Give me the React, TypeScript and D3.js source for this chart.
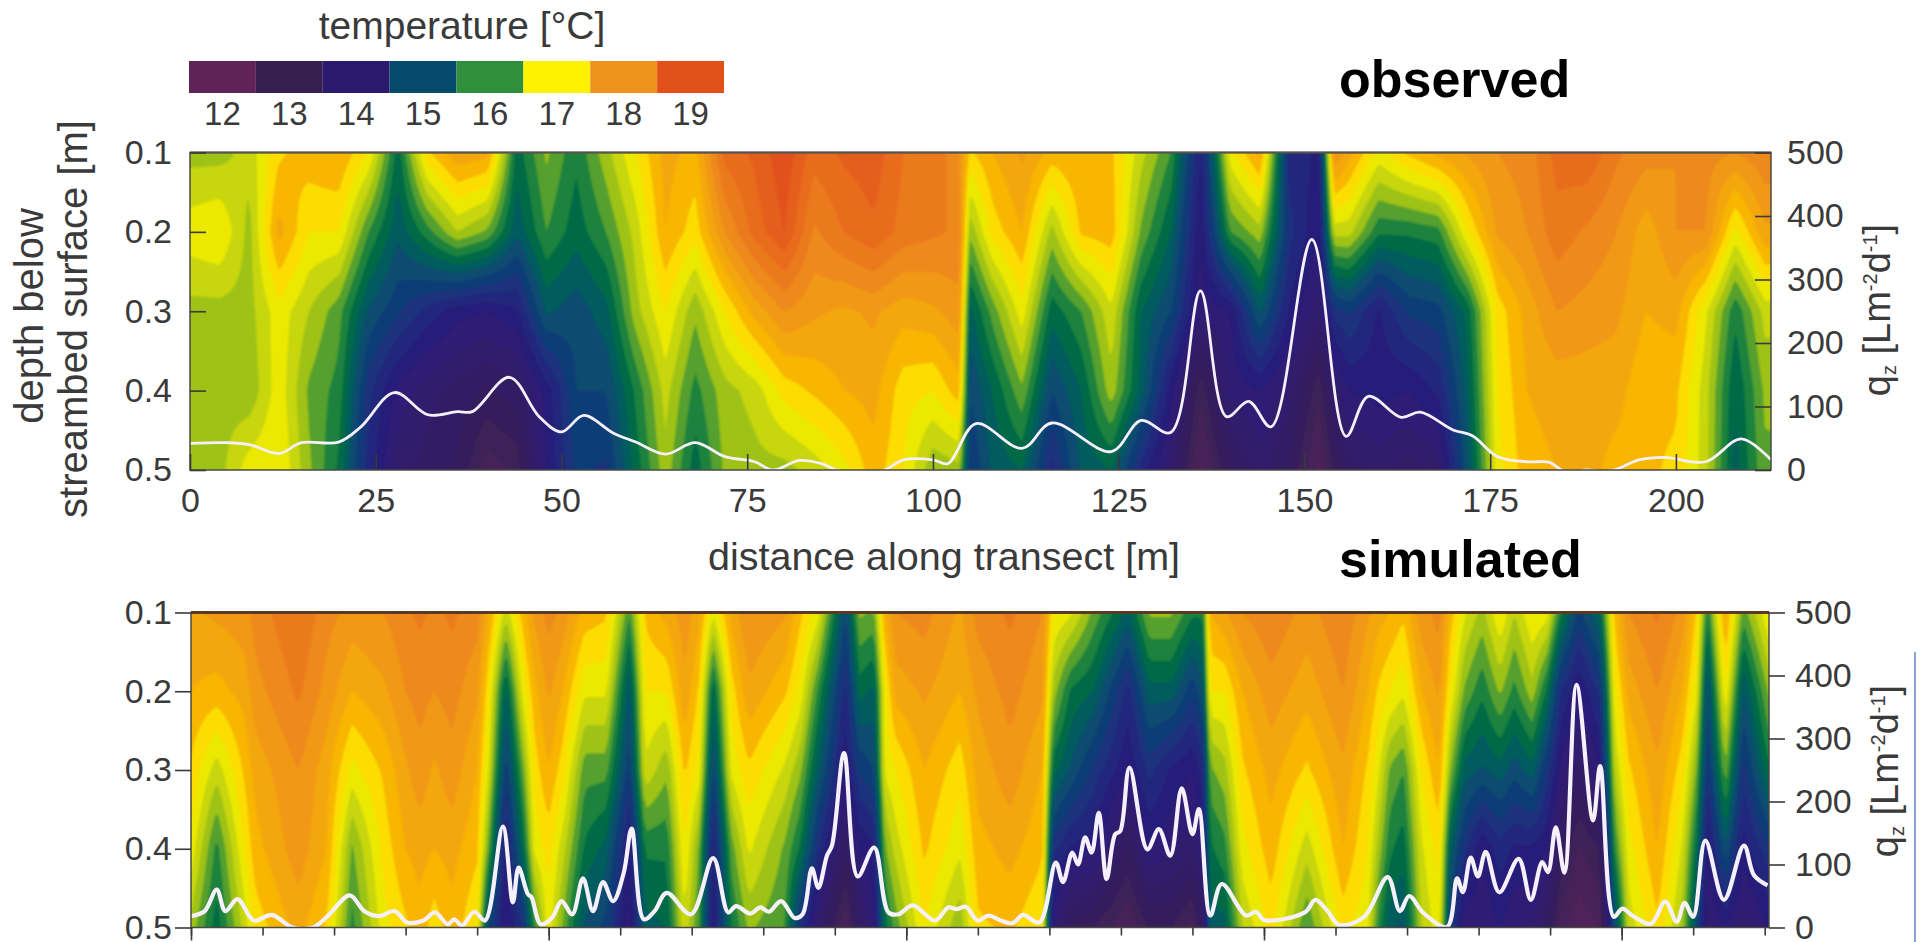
import React, { useEffect, useRef } from 'react';
import * as d3 from 'd3';

// colour bar
const legendLabels = [12, 13, 14, 15, 16, 17, 18, 19];
const legendColors = ['#5f2358', '#37204f', '#2b1a6e', '#044a6c', '#2f8f3a', '#fff200', '#ef931e', '#e2501a'];

const depths = [0.1, 0.2, 0.3, 0.4, 0.5];
const depthTicks = [0.1, 0.2, 0.3, 0.4, 0.5];
const fluxTicks = [0, 100, 200, 300, 400, 500];
const obsDistTicks = [0, 25, 50, 75, 100, 125, 150, 175, 200];

// observed temperature, one list per depth, one value per station
const obsStations = [0, 4, 8, 12, 16, 20, 24, 28, 32, 36, 40, 44, 48, 52, 56, 60, 64, 68, 72, 76, 80, 84, 88, 92, 96, 100, 103.5, 105, 108, 112, 116, 120, 124, 128, 132, 136, 140, 144, 148, 152, 154, 156, 160, 164, 168, 172, 176, 180, 184, 188, 192, 196, 200, 204, 208, 212];
const obsT01 = [16.4, 16.4, 16.6, 17.2, 17.4, 17.5, 17.0, 15.6, 17.2, 17.7, 17.6, 15.6, 16.3, 15.8, 16.4, 17.0, 17.6, 17.4, 18.6, 18.8, 19.2, 18.6, 18.8, 18.9, 18.5, 18.5, 18.0, 17.2, 17.5, 17.8, 17.4, 17.5, 17.3, 16.6, 16.0, 14.2, 16.9, 17.6, 14.4, 14.2, 18.0, 17.6, 16.9, 17.3, 17.6, 17.8, 18.0, 18.1, 18.6, 18.7, 18.3, 18.1, 18.0, 18.1, 18.0, 18.2];
const obsT02 = [16.9, 17.0, 16.4, 17.6, 17.0, 17.0, 16.0, 15.3, 15.9, 16.5, 16.2, 15.3, 16.0, 15.6, 16.0, 16.6, 17.5, 17.1, 18.0, 18.6, 19.0, 18.2, 18.5, 18.7, 18.4, 18.3, 18.2, 16.3, 17.1, 17.5, 16.4, 17.3, 17.4, 16.2, 15.5, 14.0, 16.0, 16.4, 14.6, 14.0, 16.6, 16.6, 15.8, 15.8, 15.9, 17.0, 17.8, 18.0, 18.4, 18.2, 18.0, 17.6, 18.0, 18.0, 16.9, 17.7];
const obsT03 = [16.4, 16.4, 16.4, 16.9, 16.5, 16.1, 15.2, 14.8, 14.4, 14.1, 14.0, 14.2, 15.3, 15.1, 15.4, 16.4, 17.0, 16.3, 17.0, 17.6, 18.0, 17.8, 17.7, 17.8, 17.6, 17.7, 17.9, 15.4, 16.1, 16.9, 15.6, 16.0, 16.7, 15.5, 15.0, 13.8, 14.0, 15.3, 14.2, 13.6, 14.6, 14.8, 14.2, 14.8, 14.9, 15.6, 17.1, 17.6, 18.0, 17.9, 17.8, 17.5, 17.6, 16.8, 15.8, 16.6];
const obsT04 = [16.4, 16.4, 16.3, 16.9, 16.2, 15.9, 14.6, 13.9, 13.6, 13.4, 13.2, 13.4, 14.1, 15.0, 15.0, 15.8, 16.6, 15.9, 16.4, 16.6, 17.1, 17.3, 17.5, 17.6, 17.1, 17.0, 17.4, 15.0, 15.5, 16.2, 15.0, 15.5, 16.4, 15.4, 14.1, 12.8, 13.8, 14.0, 13.6, 12.8, 13.6, 14.0, 14.1, 14.0, 14.3, 15.4, 17.0, 17.5, 17.6, 17.6, 17.6, 17.3, 17.3, 16.6, 15.5, 16.3];
const obsT05 = [16.4, 16.4, 16.9, 17.0, 16.3, 15.7, 14.4, 13.6, 13.4, 13.2, 12.6, 12.8, 14.0, 14.8, 14.7, 15.6, 16.4, 15.6, 16.3, 16.4, 16.4, 16.6, 16.9, 17.4, 17.0, 16.3, 16.4, 14.7, 15.3, 15.5, 14.4, 15.3, 15.5, 14.4, 13.6, 12.4, 13.2, 13.6, 13.2, 12.4, 13.0, 13.4, 13.6, 13.4, 13.6, 15.2, 16.9, 17.4, 17.5, 17.6, 17.4, 17.3, 17.2, 16.6, 15.4, 16.2];

// observed flux line
const obsFluxDist = [0, 5, 8, 12, 15, 20, 23, 27.5, 32, 36, 38, 43, 47, 50, 53, 57, 60, 64, 68, 72, 76, 78.5, 82, 85, 87, 90, 93.5, 96, 100, 102, 105.8, 112, 116, 124, 128, 132, 136, 139.5, 142.5, 145.5, 151, 155.6, 158.6, 163, 165.6, 170, 172.6, 176, 180, 183, 184.6, 186, 188, 190, 192, 195, 198.5, 204, 208.8, 212.8];
const obsFlux = [42, 43, 40, 26, 43, 44, 68, 122, 87, 92, 92, 146, 84, 60, 86, 58, 44, 25, 43, 21, 13, 0, 15, 10, 0, -6, 0, 16, 16, 10, 73, 34, 74, 29, 78, 59, 282, 84, 108, 68, 363, 53, 116, 83, 91, 63, 54, 21, 13, 12, 0, -4, 0, -3, 1, 16, 20, 13, 49, 16];

// simulated temperature
const simStations = [0, 3.6, 7.5, 9, 15, 19, 22.5, 27, 30, 32, 34, 36.5, 40, 41.5, 44, 46.5, 48, 50, 52, 55, 58, 61.3, 63.5, 66.5, 69, 71, 73, 75.5, 78, 83, 85.2, 87.5, 91.5, 93.5, 95.5, 97, 98.5, 102.5, 107.5, 110, 114.5, 119, 120.5, 123, 126, 131, 134, 137, 140, 141.5, 142.5, 144.5, 147, 151, 156, 161, 164.5, 166, 167.6, 169.5, 172, 174.5, 176, 178, 180.5, 183, 185, 187.5, 189.5, 191.5, 194, 197, 199, 201, 205, 208.5, 210.5, 212, 214.5, 217, 220.6];
const simT01 = [17.7, 17.8, 17.9, 18.1, 18.5, 18.1, 17.9, 18.0, 18.2, 18.3, 18.2, 18.3, 18.1, 17.6, 16.6, 17.4, 17.8, 18.1, 17.9, 17.4, 17.3, 16.0, 17.3, 17.6, 17.9, 17.6, 16.8, 17.6, 18.0, 17.8, 17.3, 16.9, 15.0, 16.3, 16.2, 17.5, 18.0, 18.1, 17.7, 18.1, 18.3, 18.0, 17.0, 16.8, 16.2, 15.4, 16.3, 16.3, 15.8, 15.8, 17.5, 17.7, 18.0, 18.2, 17.9, 18.2, 17.8, 17.6, 17.5, 17.3, 17.9, 18.1, 17.4, 16.8, 16.4, 17.0, 16.5, 17.0, 16.9, 15.8, 14.9, 15.5, 17.3, 18.0, 18.3, 17.9, 17.2, 15.8, 17.6, 16.1, 17.0];
const simT02 = [17.5, 17.4, 17.6, 17.9, 18.3, 17.9, 17.5, 17.7, 18.0, 18.1, 18.0, 18.1, 17.8, 17.1, 15.4, 16.9, 17.4, 17.8, 17.5, 16.8, 16.8, 15.2, 17.0, 17.0, 17.7, 17.2, 15.5, 17.1, 17.7, 17.3, 16.9, 16.0, 14.4, 15.6, 15.4, 16.9, 17.6, 17.8, 17.5, 17.8, 18.1, 17.8, 16.4, 15.7, 15.5, 14.4, 15.4, 15.4, 14.8, 15.2, 17.0, 17.0, 17.5, 17.9, 17.6, 18.0, 17.5, 17.2, 17.0, 16.8, 17.5, 17.8, 17.0, 16.2, 15.8, 16.3, 15.9, 16.4, 15.7, 14.5, 14.0, 14.6, 16.9, 17.6, 18.0, 17.5, 16.8, 15.0, 17.0, 15.2, 16.3];
const simT03 = [17.2, 16.6, 17.3, 17.6, 18.0, 17.6, 16.9, 17.3, 17.7, 17.9, 17.7, 17.9, 17.5, 16.8, 14.8, 16.2, 17.1, 17.5, 17.1, 16.1, 16.1, 14.8, 16.7, 16.3, 17.3, 16.9, 14.9, 16.8, 17.2, 16.7, 16.3, 15.4, 14.0, 14.8, 15.0, 16.8, 17.0, 17.5, 17.1, 17.6, 17.9, 17.5, 15.6, 15.2, 14.7, 14.0, 14.6, 14.2, 14.0, 14.4, 16.2, 16.4, 17.2, 17.6, 17.2, 17.7, 17.2, 16.8, 16.2, 16.0, 17.0, 17.5, 16.3, 15.4, 15.2, 15.4, 15.1, 15.4, 14.7, 13.9, 13.4, 14.0, 16.5, 17.2, 17.7, 17.1, 16.2, 14.6, 16.2, 14.6, 15.7];
const simT04 = [16.9, 15.9, 17.0, 17.4, 17.9, 17.5, 16.2, 17.1, 17.5, 17.6, 17.5, 17.6, 17.3, 16.2, 14.1, 15.6, 16.8, 17.1, 16.6, 15.7, 15.4, 14.1, 15.8, 15.8, 17.0, 16.2, 14.2, 16.1, 16.8, 16.2, 15.7, 14.6, 13.3, 14.0, 14.2, 16.2, 16.6, 17.3, 16.8, 17.4, 17.6, 17.3, 14.6, 14.2, 14.1, 13.2, 14.0, 13.8, 13.6, 14.0, 15.7, 15.9, 16.9, 17.4, 16.6, 17.5, 17.0, 16.4, 15.8, 15.6, 16.7, 17.1, 15.4, 14.6, 14.0, 14.4, 14.2, 14.2, 14.0, 13.2, 12.7, 13.0, 15.9, 16.9, 17.5, 16.7, 15.6, 14.0, 15.2, 14.1, 14.7];
const simT05 = [16.4, 15.6, 16.6, 17.1, 17.6, 17.2, 15.9, 16.9, 17.2, 17.4, 17.1, 17.4, 17.0, 15.0, 13.9, 14.6, 15.9, 16.9, 16.2, 15.2, 14.9, 13.8, 15.4, 15.5, 16.7, 16.0, 14.0, 15.7, 16.3, 16.0, 14.6, 13.6, 12.5, 13.4, 13.9, 15.6, 16.1, 17.0, 16.3, 17.2, 17.3, 17.0, 13.8, 13.2, 13.0, 12.5, 13.0, 13.0, 12.6, 13.4, 15.4, 15.4, 16.5, 17.1, 16.0, 17.1, 16.8, 15.9, 15.3, 15.2, 16.5, 16.9, 14.8, 13.8, 13.8, 14.0, 13.8, 13.7, 13.3, 12.6, 12.3, 12.5, 15.0, 16.6, 17.2, 16.4, 15.0, 13.6, 14.0, 13.6, 14.0];

// simulated flux line
const simFluxDist = [0, 1.9, 3.6, 4.8, 6.5, 8.8, 11.3, 14.2, 17.1, 19.1, 22.2, 24.2, 26.2, 28.5, 30.2, 32.5, 34.1, 35.9, 36.8, 37.9, 39.6, 41.1, 43.6, 45, 45.8, 47.1, 47.6, 48.9, 50.5, 51.8, 53.3, 54.8, 56.2, 57.6, 59, 60.5, 61.6, 63.3, 64.8, 66.5, 69.9, 73, 75.1, 76.2, 78.2, 79.6, 80.8, 82.5, 84.4, 85.5, 86.8, 87.7, 88.9, 89.6, 91.3, 93.2, 95.5, 97.5, 98.9, 100.9, 104, 105.9, 107, 108.3, 110, 111.5, 113.2, 114.9, 116.3, 118.6, 120.9, 121.9, 123.2, 124, 125, 125.9, 126.9, 128, 129.2, 129.9, 131.2, 133.7, 135.3, 136.9, 138.5, 140, 140.9, 142.5, 144.1, 147.5, 148.9, 150, 155.7, 157.2, 158.9, 160.5, 164, 167.3, 169, 170.3, 172.3, 175.6, 177, 177.8, 178.9, 179.9, 181, 182.9, 185.6, 187.3, 188.9, 189.7, 190.8, 192, 193.7, 196, 197, 198.9, 200.1, 201.6, 204.1, 206.1, 207.7, 208.8, 210, 211.7, 214.3, 217.1, 218.5, 220.4];
const simFlux = [18, 26, 60, 26, 45, 11, 20, 0, 0, 18, 51, 26, 18, 26, 8, 11, 24, 5, 13, 3, 25, 11, 160, 40, 95, 53, 48, 5, 16, 42, 21, 78, 26, 72, 42, 87, 157, 13, 26, 55, 21, 110, 24, 34, 22, 32, 25, 42, 15, 21, 94, 63, 114, 130, 277, 81, 127, 24, 21, 35, 11, 32, 29, 33, 11, 19, 11, 7, 20, 8, 103, 72, 119, 100, 143, 119, 182, 77, 148, 153, 254, 124, 156, 114, 221, 148, 188, 19, 69, 19, 25, 12, 24, 44, 26, 4, 17, 80, 26, 50, 23, 1, 78, 56, 111, 81, 120, 56, 109, 44, 104, 88, 159, 87, 385, 170, 256, 17, 30, 18, 6, 41, 9, 39, 17, 138, 44, 130, 83, 67];

const colorStops = [12, 13, 14, 14.6, 15.2, 15.7, 16, 16.4, 17, 17.35, 18.1, 19, 19.6];
const colorValues = ['#5f2358', '#371f58', '#2b1a78', '#1b2f7c', '#06506e', '#00703f', '#2f8f3a', '#a6c513', '#fff200', '#f8b800', '#ee8a1c', '#e4571a', '#dc3a18'];
const bandEdges = d3.range(11, 20.25, 0.25);

const GRID_W = 520;
const GRID_H = 100;
const TEXT = '#3a3a3a';
const FONT = '"Liberation Sans", Arial, sans-serif';

const tempColor = d3.scaleLinear<string>().domain(colorStops).range(colorValues).clamp(true);

// regular grid for d3.contours, built from the stations and depths
const toGrid = (stations: number[], rows: number[][], maxDist: number) => {
  const colScale = d3.scaleLinear().domain([0, GRID_W - 1]).range([0, maxDist]);
  const rowScale = d3.scaleLinear().domain([0, GRID_H - 1]).range([depths[0], depths[depths.length - 1]]);
  const byDepth = rows.map((r) => d3.scaleLinear().domain(stations).range(r).clamp(true));
  const values = new Array(GRID_W * GRID_H);
  for (let j = 0; j < GRID_H; j++) {
    const d = rowScale(j);
    const k = Math.min(Math.floor((d - depths[0]) / 0.1 + 1e-9), depths.length - 2);
    const t = (d - depths[k]) / (depths[k + 1] - depths[k]);
    for (let i = 0; i < GRID_W; i++) {
      const dist = colScale(i);
      values[j * GRID_W + i] = byDepth[k](dist) * (1 - t) + byDepth[k + 1](dist) * t;
    }
  }
  return values;
};

const drawPanel = (svg: any, opts: any) => {
  const { id, left, right, top, bottom, stations, rows, maxDist, fluxDist, flux, lineWidth, outward } = opts;
  const g = svg.append('g');
  const x = d3.scaleLinear().domain([0, maxDist]).range([left, right]);
  const depthY = d3.scaleLinear().domain([0.1, 0.5]).range([top, bottom]);
  const fluxY = d3.scaleLinear().domain([0, 500]).range([bottom, top]);

  svg.select('defs').append('clipPath').attr('id', id)
    .append('rect').attr('x', left).attr('y', top).attr('width', right - left).attr('height', bottom - top);

  const gridX = d3.scaleLinear().domain([0.5, GRID_W - 0.5]).range([left, right]);
  const gridY = d3.scaleLinear().domain([0.5, GRID_H - 0.5]).range([top, bottom]);
  const path = d3.geoPath(d3.geoTransform({
    point(px: number, py: number) {
      (this as any).stream.point(gridX(px), gridY(py));
    },
  }));
  const values = toGrid(stations, rows, maxDist);
  const contours = d3.contours().size([GRID_W, GRID_H]).thresholds(bandEdges)(values);

  const field = g.append('g').attr('clip-path', `url(#${id})`);
  field.append('g').attr('filter', 'url(#soft)')
    .selectAll('path').data(contours).join('path')
    .attr('d', (c: any) => path(c))
    .attr('fill', (c: any) => tempColor(c.value + 0.125))
    .attr('stroke', (c: any) => tempColor(c.value + 0.125))
    .attr('stroke-width', 0.5);

  const line = d3.line<number>()
    .x((_, i) => x(fluxDist[i]))
    .y((d) => fluxY(d))
    .curve(d3.curveCatmullRom.alpha(0.5));
  field.append('path').attr('d', line(flux)).attr('fill', 'none')
    .attr('stroke', '#f6f0fa').attr('stroke-width', lineWidth).attr('stroke-linejoin', 'round');

  // frame
  g.append('rect').attr('x', left).attr('y', top).attr('width', right - left).attr('height', bottom - top)
    .attr('fill', 'none').attr('stroke', '#4a4a44').attr('stroke-width', 1.5);
  g.append('line').attr('x1', left).attr('x2', right).attr('y1', top).attr('y2', top)
    .attr('stroke', outward ? '#5a3a22' : '#55554d').attr('stroke-width', outward ? 3 : 2);

  return { g, x, depthY, fluxY };
};

const styleAxis = (sel: any, size: number) => {
  sel.select('.domain').remove();
  sel.selectAll('line').attr('stroke', '#3a3a3a').attr('stroke-width', 1.6);
  sel.selectAll('text').attr('font-family', FONT).attr('font-size', size).attr('fill', TEXT);
};

const App = () => {
  const ref = useRef<SVGSVGElement>(null);

  useEffect(() => {
    const svg = d3.select(ref.current);
    svg.selectAll('g.plots').remove();
    const plots = svg.append('g').attr('class', 'plots');
    plots.append('defs');

    // observed
    const up = drawPanel(plots, {
      id: 'clip-obs', left: 190, right: 1771, top: 152.5, bottom: 470,
      stations: obsStations, rows: [obsT01, obsT02, obsT03, obsT04, obsT05], maxDist: 212.8,
      fluxDist: obsFluxDist, flux: obsFlux, lineWidth: 2.8, outward: false,
    });
    up.g.append('g').attr('transform', 'translate(190,0)')
      .call(d3.axisLeft(up.depthY).tickValues(depthTicks).tickFormat(d3.format('.1f')).tickSize(-16).tickPadding(18))
      .call(styleAxis, 34);
    up.g.append('g').attr('transform', 'translate(1771,0)')
      .call(d3.axisRight(up.fluxY).tickValues(fluxTicks).tickSize(-16).tickPadding(16))
      .call(styleAxis, 34);
    up.g.append('g').attr('transform', 'translate(0,470)')
      .call(d3.axisBottom(up.x).tickValues(obsDistTicks).tickSize(-16).tickPadding(18))
      .call(styleAxis, 34);

    // simulated
    const low = drawPanel(plots, {
      id: 'clip-sim', left: 191, right: 1769, top: 612.5, bottom: 927.5,
      stations: simStations, rows: [simT01, simT02, simT03, simT04, simT05], maxDist: 220.6,
      fluxDist: simFluxDist, flux: simFlux, lineWidth: 4.2, outward: true,
    });
    low.g.append('g').attr('transform', 'translate(191,0)')
      .call(d3.axisLeft(low.depthY).tickValues(depthTicks).tickFormat(d3.format('.1f')).tickSize(16).tickPadding(3))
      .call(styleAxis, 34);
    low.g.append('g').attr('transform', 'translate(1769,0)')
      .call(d3.axisRight(low.fluxY).tickValues(fluxTicks).tickSize(16).tickPadding(10))
      .call(styleAxis, 34);
    low.g.append('g').attr('transform', 'translate(0,927.5)')
      .call(d3.axisBottom(low.x).tickValues(d3.range(0, 221, 10)).tickSize(8).tickFormat(() => ''))
      .call(styleAxis, 34);
    low.g.append('g').attr('transform', 'translate(0,927.5)')
      .call(d3.axisBottom(low.x).tickValues(d3.range(0, 221, 50)).tickSize(13).tickFormat(() => ''))
      .call(styleAxis, 34);
  }, []);

  const band = d3.scaleBand<number>().domain(legendLabels).range([189, 724]);

  return (
    <svg ref={ref} width={1921} height={942} style={{ position: 'absolute', left: 0, top: 0, background: '#fff' }}>
      <defs>
        <filter id="soft" x="-1%" y="-1%" width="102%" height="102%">
          <feGaussianBlur stdDeviation="0.8" />
        </filter>
      </defs>
      <g fontFamily={FONT} fill={TEXT}>
        <text x={462} y={39} fontSize={39} textAnchor="middle">temperature [°C]</text>
        {legendLabels.map((d, i) => (
          <g key={d}>
            <rect x={band(d)} y={61} width={band.bandwidth()} height={32} fill={legendColors[i]} />
            <text x={band(d)! + band.bandwidth() / 2} y={125} fontSize={33} textAnchor="middle">{d}</text>
          </g>
        ))}
        <text transform="translate(43,316) rotate(-90)" fontSize={40} textAnchor="middle">depth below</text>
        <text transform="translate(87,319) rotate(-90)" fontSize={40} textAnchor="middle">streambed surface [m]</text>
        <text x={944} y={570} fontSize={39.5} textAnchor="middle">distance along transect [m]</text>
        <text transform="translate(1890,310) rotate(-90)" fontSize={38} textAnchor="middle">
          q<tspan fontSize={20} dy={6}>z</tspan><tspan dy={-6}> [Lm</tspan><tspan fontSize={20} dy={-13}>-2</tspan><tspan dy={13}>d</tspan><tspan fontSize={20} dy={-13}>-1</tspan><tspan dy={13}>]</tspan>
        </text>
        <text transform="translate(1898,771) rotate(-90)" fontSize={38} textAnchor="middle">
          q<tspan fontSize={20} dy={6}>z</tspan><tspan dy={-6}> [Lm</tspan><tspan fontSize={20} dy={-13}>-2</tspan><tspan dy={13}>d</tspan><tspan fontSize={20} dy={-13}>-1</tspan><tspan dy={13}>]</tspan>
        </text>
      </g>
      <g fontFamily={FONT} fontWeight="bold" fontSize={52} fill="#000">
        <text x={1339} y={97}>observed</text>
        <text x={1339} y={577}>simulated</text>
      </g>
      <line x1={1915} x2={1915} y1={652} y2={942} stroke="#2f6fb5" strokeWidth={1.2} />
    </svg>
  );
};

export default App;
